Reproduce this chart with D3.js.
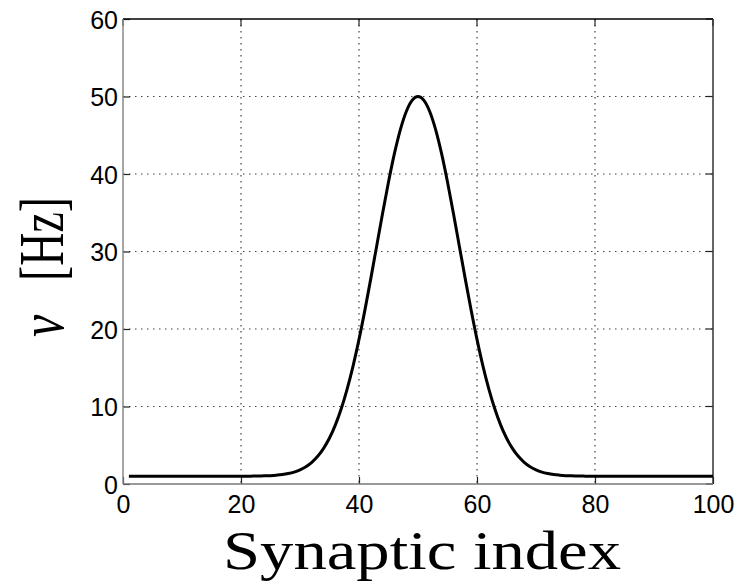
<!DOCTYPE html>
<html>
<head>
<meta charset="utf-8">
<script src="https://cdn.jsdelivr.net/npm/d3@7"></script>
<style>
  html, body { margin: 0; padding: 0; background: #fff; }
  svg { display: block; }
</style>
</head>
<body>
<div id="chart"></div>
<script>
// Synaptic index (x) and firing rate nu in Hz (y)
const synapticIndex = [
  1, 2, 3, 4, 5, 6, 7, 8, 9, 10, 11, 12, 13, 14, 15, 16, 17, 18, 19, 20,
  21, 22, 23, 24, 25, 26, 27, 28, 29, 30, 31, 32, 33, 34, 35, 36, 37, 38, 39, 40,
  41, 42, 43, 44, 45, 46, 47, 48, 49, 50, 51, 52, 53, 54, 55, 56, 57, 58, 59, 60,
  61, 62, 63, 64, 65, 66, 67, 68, 69, 70, 71, 72, 73, 74, 75, 76, 77, 78, 79, 80,
  81, 82, 83, 84, 85, 86, 87, 88, 89, 90, 91, 92, 93, 94, 95, 96, 97, 98, 99, 100
];
const rateHz = [
  1.00, 1.00, 1.00, 1.00, 1.00, 1.00, 1.00, 1.00, 1.00, 1.00,
  1.00, 1.00, 1.00, 1.00, 1.00, 1.00, 1.00, 1.00, 1.00, 1.01,
  1.01, 1.02, 1.03, 1.05, 1.08, 1.14, 1.22, 1.35, 1.54, 1.83,
  2.23, 2.80, 3.57, 4.60, 5.93, 7.63, 9.74, 12.28, 15.25, 18.66,
  22.44, 26.50, 30.72, 34.94, 38.97, 42.62, 45.70, 48.04, 49.50, 50.00,
  49.50, 48.04, 45.70, 42.62, 38.97, 34.94, 30.72, 26.50, 22.44, 18.66,
  15.25, 12.28, 9.74, 7.63, 5.93, 4.60, 3.57, 2.80, 2.23, 1.83,
  1.54, 1.35, 1.22, 1.14, 1.08, 1.05, 1.03, 1.02, 1.01, 1.01,
  1.00, 1.00, 1.00, 1.00, 1.00, 1.00, 1.00, 1.00, 1.00, 1.00,
  1.00, 1.00, 1.00, 1.00, 1.00, 1.00, 1.00, 1.00, 1.00, 1.00
];
const xTicks = [0, 20, 40, 60, 80, 100];
const yTicks = [0, 10, 20, 30, 40, 50, 60];
const xDomain = [0, 100];
const yDomain = [0, 60];
const xTitle = "Synaptic index";
const yTitleSymbol = "\u03bd";
const yTitleUnit = "[Hz]";

const W = 747, H = 583;
const margin = { top: 19, right: 34, bottom: 99, left: 123 };
const iw = W - margin.left - margin.right;
const ih = H - margin.top - margin.bottom;

const svg = d3.select("#chart").append("svg")
  .attr("width", W).attr("height", H);
const g = svg.append("g").attr("transform", `translate(${margin.left},${margin.top})`);

const x = d3.scaleLinear().domain(xDomain).range([0, iw]);
const y = d3.scaleLinear().domain(yDomain).range([ih, 0]);

// grid
const gridStyle = sel => sel.attr("stroke", "#444").attr("stroke-width", 1.2)
  .attr("stroke-dasharray", "1.5,4.5");
g.append("g").selectAll("line").data(xTicks.filter(t => t > xDomain[0] && t < xDomain[1]))
  .join("line")
  .attr("x1", d => x(d)).attr("x2", d => x(d))
  .attr("y1", 0).attr("y2", ih)
  .call(gridStyle);
g.append("g").selectAll("line").data(yTicks.filter(t => t > yDomain[0] && t < yDomain[1]))
  .join("line")
  .attr("x1", 0).attr("x2", iw)
  .attr("y1", d => y(d)).attr("y2", d => y(d))
  .call(gridStyle);

// axes (ticks inward)
const tickFont = "'Liberation Sans', Arial, sans-serif";
const xAxis = g.append("g").attr("transform", `translate(0,${ih})`)
  .call(d3.axisBottom(x).tickValues(xTicks).tickSize(-7).tickPadding(11).tickFormat(d3.format("d")));
const yAxis = g.append("g")
  .call(d3.axisLeft(y).tickValues(yTicks).tickSize(-7).tickPadding(5).tickFormat(d3.format("d")));
[xAxis, yAxis].forEach(a => {
  a.select(".domain").remove();
  a.selectAll(".tick line").attr("stroke", "#222").attr("stroke-width", 1.2);
  a.selectAll("text").attr("fill", "#000")
    .style("font-family", tickFont).style("font-size", "25px");
});
xAxis.selectAll("text").attr("dy", "0.71em");
yAxis.selectAll("text").attr("dy", "0.36em");

// top/right ticks (inward)
g.append("g").selectAll("line").data(xTicks).join("line")
  .attr("x1", d => x(d)).attr("x2", d => x(d)).attr("y1", 0).attr("y2", 7)
  .attr("stroke", "#222").attr("stroke-width", 1.2);
g.append("g").selectAll("line").data(yTicks).join("line")
  .attr("x1", iw).attr("x2", iw - 7).attr("y1", d => y(d)).attr("y2", d => y(d))
  .attr("stroke", "#222").attr("stroke-width", 1.2);

// box
g.append("line").attr("x1", 0).attr("x2", iw).attr("y1", 0).attr("y2", 0).attr("stroke", "#000").attr("stroke-width", 1.5);
g.append("line").attr("x1", iw).attr("x2", iw).attr("y1", 0).attr("y2", ih).attr("stroke", "#333").attr("stroke-width", 1.5);
g.append("line").attr("x1", 0).attr("x2", iw).attr("y1", ih).attr("y2", ih).attr("stroke", "#777").attr("stroke-width", 1.5);
g.append("line").attr("x1", 0).attr("x2", 0).attr("y1", 0).attr("y2", ih).attr("stroke", "#888").attr("stroke-width", 1.5);

// curve
const pts = synapticIndex.map((v, i) => [v, rateHz[i]]);
g.append("path").datum(pts)
  .attr("fill", "none").attr("stroke", "#000").attr("stroke-width", 3)
  .attr("stroke-linejoin", "round")
  .attr("d", d3.line().x(d => x(d[0])).y(d => y(d[1])).curve(d3.curveMonotoneX));

// titles
const serif = "'Liberation Serif', 'Times New Roman', serif";
svg.append("text")
  .attr("x", 422).attr("y", 569)
  .attr("text-anchor", "middle")
  .attr("textLength", 398).attr("lengthAdjust", "spacingAndGlyphs")
  .style("font-family", serif).style("font-size", "54px")
  .text(xTitle);

// y title: nu then [Hz], rotated
svg.append("text")
  .attr("transform", "translate(63,337) rotate(-90) scale(1,1.25)")
  .attr("text-anchor", "start")
  .style("font-family", serif).style("font-size", "50px").style("font-style", "italic")
  .text(yTitleSymbol);
svg.append("text")
  .attr("transform", "translate(63,281) rotate(-90) scale(1,1.3)")
  .attr("text-anchor", "start")
  .attr("textLength", 84).attr("lengthAdjust", "spacingAndGlyphs")
  .style("font-family", serif).style("font-size", "48px")
  .text(yTitleUnit);
</script>
</body>
</html>
